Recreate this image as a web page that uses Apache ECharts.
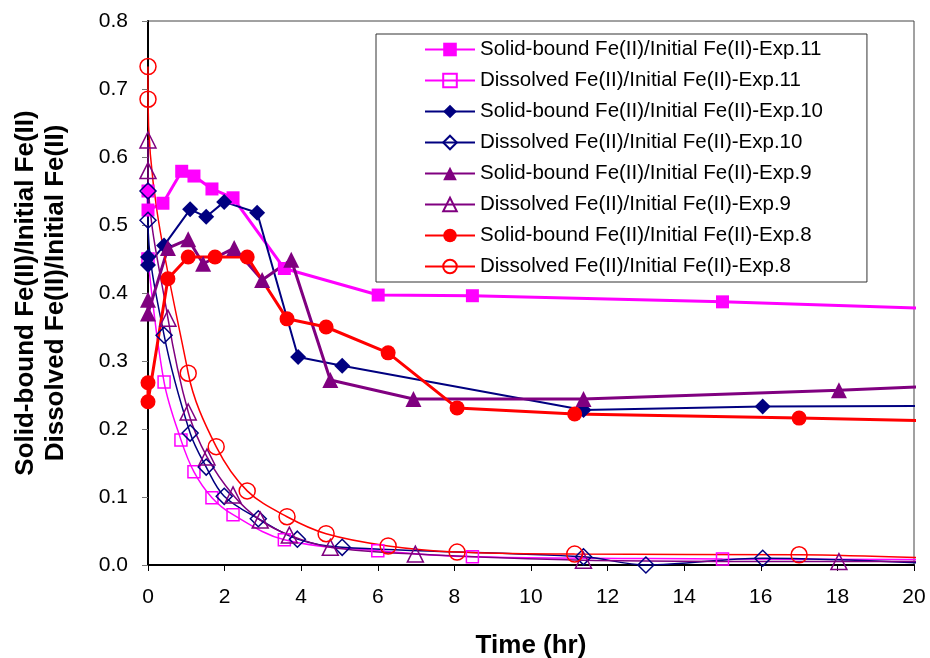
<!DOCTYPE html>
<html>
<head>
<meta charset="utf-8">
<script src="https://cdn.jsdelivr.net/npm/echarts@6/dist/echarts.min.js"></script>
<style>
  html, body { margin: 0; padding: 0; background: #fff; }
  #chart { width: 930px; height: 658px; }
</style>
</head>
<body>
<div id="chart"></div>
<script>
// Time axis (hr) and tick labels
const xTicks = [0, 2, 4, 6, 8, 10, 12, 14, 16, 18, 20];
const yTicks = [0.0, 0.1, 0.2, 0.3, 0.4, 0.5, 0.6, 0.7, 0.8];

// Exp.11
const solid11T = [0, 0, 0.39, 0.88, 1.2, 1.67, 2.22, 3.56, 6.01, 8.47, 15.0, 20.5];
const solid11V = [0.55, 0.522, 0.532, 0.579, 0.572, 0.553, 0.540, 0.436, 0.397, 0.396, 0.387, 0.377];
const diss11T = [0, 0.42, 0.86, 1.2, 1.67, 2.22, 3.56, 6.0, 8.47, 15.0, 20.5];
const diss11V = [0.45, 0.269, 0.184, 0.137, 0.099, 0.074, 0.037, 0.021, 0.012, 0.009, 0.008];

// Exp.10
const solid10T = [0, 0, 0.42, 1.1, 1.52, 1.99, 2.85, 3.92, 5.07, 11.37, 16.05, 20.5];
const solid10V = [0.453, 0.441, 0.47, 0.523, 0.512, 0.534, 0.518, 0.306, 0.293, 0.228, 0.233, 0.234];
const diss10T = [0, 0, 0.42, 1.1, 1.52, 1.99, 2.88, 3.9, 5.07, 11.37, 13.0, 16.05, 20.5];
const diss10V = [0.55, 0.507, 0.338, 0.194, 0.144, 0.101, 0.068, 0.038, 0.026, 0.012, 0.0, 0.010, 0.002];

// Exp.9
const solid9T = [0, 0, 0.52, 1.05, 1.44, 2.25, 2.98, 3.74, 4.76, 6.93, 11.37, 18.04, 20.5];
const solid9V = [0.39, 0.37, 0.466, 0.479, 0.443, 0.466, 0.419, 0.449, 0.272, 0.244, 0.244, 0.257, 0.263];
const diss9T = [0, 0, 0.52, 1.05, 1.54, 2.22, 2.93, 3.69, 4.76, 6.98, 11.37, 18.04, 20.5];
const diss9V = [0.625, 0.58, 0.363, 0.225, 0.159, 0.103, 0.066, 0.044, 0.026, 0.016, 0.007, 0.005, 0.005];

// Exp.8
const solid8T = [0, 0, 0.52, 1.05, 1.75, 2.59, 3.63, 4.65, 6.27, 8.07, 11.14, 17.0, 20.5];
const solid8V = [0.268, 0.24, 0.421, 0.453, 0.453, 0.453, 0.362, 0.35, 0.312, 0.231, 0.222, 0.216, 0.212];
const diss8T = [0, 0, 1.05, 1.78, 2.59, 3.63, 4.65, 6.27, 8.07, 11.14, 17.0, 20.5];
const diss8V = [0.733, 0.685, 0.282, 0.174, 0.109, 0.071, 0.046, 0.028, 0.019, 0.016, 0.015, 0.010];

const pairs = (t, v) => t.map((x, i) => [x, v[i]]);

function solidSeries(name, t, v, color, symbol, size, width) {
  return {
    name, type: 'line', data: pairs(t, v),
    symbol, symbolSize: size,
    itemStyle: { color },
    lineStyle: { color, width },
    emphasis: { disabled: true },
    animation: false
  };
}
function openSeries(name, t, v, color, symbol, size) {
  return {
    name, type: 'line', data: pairs(t, v),
    symbol, symbolSize: size, smooth: 0.35,
    itemStyle: { color: 'rgba(255,255,255,0)', borderColor: color, borderWidth: 1.5 },
    lineStyle: { color, width: 1.5 },
    emphasis: { disabled: true },
    animation: false
  };
}

const MAGENTA = '#FF00FF', NAVY = '#000080', PURPLE = '#800080', RED = '#FF0000';
const FONT = 'Liberation Sans, Arial, sans-serif';

const series = [
  solidSeries('Solid-bound Fe(II)/Initial Fe(II)-Exp.11', solid11T, solid11V, MAGENTA, 'rect', 13, 3),
  openSeries('Dissolved Fe(II)/Initial Fe(II)-Exp.11', diss11T, diss11V, MAGENTA, 'rect', 12),
  solidSeries('Solid-bound Fe(II)/Initial Fe(II)-Exp.10', solid10T, solid10V, NAVY, 'diamond', 16, 2),
  openSeries('Dissolved Fe(II)/Initial Fe(II)-Exp.10', diss10T, diss10V, NAVY, 'diamond', 16),
  solidSeries('Solid-bound Fe(II)/Initial Fe(II)-Exp.9', solid9T, solid9V, PURPLE, 'triangle', 16, 3),
  openSeries('Dissolved Fe(II)/Initial Fe(II)-Exp.9', diss9T, diss9V, PURPLE, 'triangle', 16),
  solidSeries('Solid-bound Fe(II)/Initial Fe(II)-Exp.8', solid8T, solid8V, RED, 'circle', 15, 3),
  openSeries('Dissolved Fe(II)/Initial Fe(II)-Exp.8', diss8T, diss8V, RED, 'circle', 16)
];

const chart = echarts.init(document.getElementById('chart'), null, { renderer: 'canvas' });
chart.setOption({
  backgroundColor: '#fff',
  animation: false,
  grid: {
    left: 148, right: 16, top: 21, bottom: 93,
    outerBoundsMode: 'none',
    show: true, borderColor: '#444', borderWidth: 1, backgroundColor: 'transparent'
  },
  legend: {
    orient: 'vertical',
    left: 376, top: 34,
    padding: [4, 44, 4, 48],
    itemWidth: 50, itemHeight: 17, itemGap: 8,
    borderColor: '#333', borderWidth: 1, backgroundColor: '#fff',
    textStyle: { fontFamily: FONT, fontSize: 20.5, color: '#000', lineHeight: 23 },
    data: series.map(s => s.name)
  },
  xAxis: {
    type: 'value', min: xTicks[0], max: xTicks[xTicks.length - 1], interval: 2,
    name: 'Time (hr)', nameLocation: 'middle', nameGap: 68,
    nameTextStyle: { fontFamily: FONT, fontSize: 26, fontWeight: 'bold', color: '#000' },
    axisLine: { lineStyle: { color: '#000', width: 2 } },
    axisTick: { show: true, inside: false, length: 6, lineStyle: { color: '#000', width: 1 } },
    axisLabel: { fontFamily: FONT, fontSize: 21, color: '#000', margin: 22 },
    splitLine: { show: false }
  },
  yAxis: {
    type: 'value', min: yTicks[0], max: yTicks[yTicks.length - 1], interval: 0.1,
    name: 'Solid-bound Fe(II)/Initial Fe(II)\nDissolved Fe(II)/Initial Fe(II)',
    nameLocation: 'middle', nameGap: 77, nameRotate: 90,
    nameTextStyle: { fontFamily: FONT, fontSize: 26, fontWeight: 'bold', color: '#000', lineHeight: 30 },
    axisLine: { show: true, lineStyle: { color: '#000', width: 2 } },
    axisTick: { show: true, inside: false, length: 6, lineStyle: { color: '#777', width: 1 } },
    axisLabel: { fontFamily: FONT, fontSize: 21, color: '#000', margin: 20, formatter: v => v.toFixed(1) },
    splitLine: { show: false }
  },
  series
});
</script>
</body>
</html>
